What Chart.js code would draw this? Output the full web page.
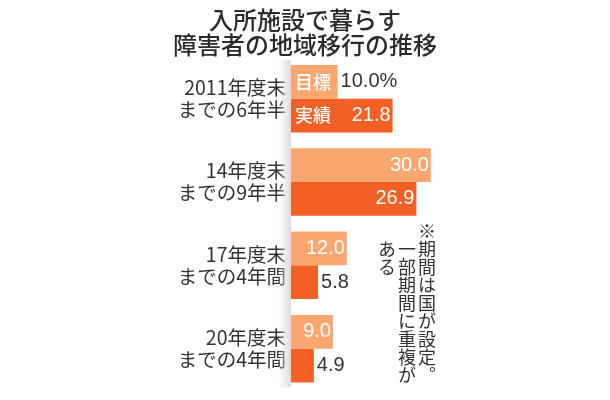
<!DOCTYPE html>
<html lang="ja"><head><meta charset="utf-8">
<script src="https://cdn.jsdelivr.net/npm/chart.js@4"></script>
<style>
html,body{margin:0;padding:0;background:#fff}
#wrap{position:relative;width:610px;height:400px}
#note{position:absolute;right:173px;top:222px;writing-mode:vertical-rl;font:400 18px/20px "Noto Sans CJK JP";color:#333;white-space:nowrap}
#note div.i{padding-top:18px}
</style></head><body>
<div id="wrap"><canvas id="c" width="610" height="400"></canvas>
<div id="note"><div>※期間は国が設定。</div><div class="i">一部期間に重複が</div><div class="i">ある</div></div></div>
<script>
const titleLines = ['入所施設で暮らす', '障害者の地域移行の推移'];
const categories = [['2011年度末', 'までの6年半'], ['14年度末', 'までの9年半'], ['17年度末', 'までの4年間'], ['20年度末', 'までの4年間']];
const targetValues = [10.0, 30.0, 12.0, 9.0];
const actualValues = [21.8, 26.9, 5.8, 4.9];
const seriesNames = ['目標', '実績'];
const INK = '#333333';
const CJK = '"Noto Sans CJK JP"';
const NUM = '"Liberation Sans"';

const shadow = {
  id: 'shadow',
  beforeDatasetsDraw(chart) {
    const ctx = chart.ctx, a = chart.chartArea;
    const g = ctx.createLinearGradient(a.left - 13, 0, a.left, 0);
    g.addColorStop(0, 'rgba(218,222,224,0)');
    g.addColorStop(1, 'rgba(218,222,224,1)');
    ctx.fillStyle = g;
    ctx.fillRect(a.left - 13, a.top + 3, 13, a.bottom - a.top - 6);
  }
};
const barText = {
  id: 'barText',
  afterDatasetsDraw(chart) {
    const ctx = chart.ctx;
    ctx.save();
    ctx.textBaseline = 'middle';
    chart.data.datasets.forEach((ds, d) => {
      chart.getDatasetMeta(d).data.forEach((bar, i) => {
        const w = bar.x - bar.base;
        const val = ds.data[i].toFixed(1);
        const first = i === 0;
        if (first) {
          ctx.font = '500 18px ' + CJK;
          ctx.fillStyle = '#fff';
          ctx.textAlign = 'left';
          ctx.fillText(ds.label, bar.base + 4, bar.y);
        }
        ctx.font = '400 20px ' + NUM;
        if ((first && d === 0) || w < 35) {
          ctx.fillStyle = INK;
          ctx.textAlign = 'left';
          ctx.fillText(first ? val + '%' : val, bar.x + 3, bar.y);
        } else {
          ctx.fillStyle = '#fff';
          ctx.textAlign = 'right';
          ctx.fillText(val, bar.x - 2, bar.y);
        }
      });
    });
    ctx.restore();
  }
};
new Chart(document.getElementById('c'), {
  type: 'bar',
  data: {
    labels: categories,
    datasets: [
      { label: seriesNames[0], data: targetValues, backgroundColor: '#F9A66F' },
      { label: seriesNames[1], data: actualValues, backgroundColor: '#F26024' }
    ]
  },
  options: {
    indexAxis: 'y',
    responsive: false,
    animation: false,
    layout: { padding: { bottom: 9.7 } },
    datasets: { bar: { barPercentage: 1, categoryPercentage: 0.81 } },
    plugins: {
      legend: { display: false },
      tooltip: { enabled: false },
      title: {
        display: true, text: titleLines, color: '#2b2b2b',
        font: { family: CJK, size: 24, weight: '500', lineHeight: 25 / 24 },
        padding: { top: 7, bottom: 0 }
      }
    },
    scales: {
      x: { display: false, min: 0, max: 68.45 },
      y: {
        grid: { display: false, drawTicks: false },
        border: { display: false },
        afterFit(s) { s.width = 291; s.paddingTop = 0; s.paddingBottom = 0; },
        ticks: {
          color: INK, padding: 5, crossAlign: 'near',
          font: { family: CJK, size: 19.5, weight: '400', lineHeight: 22 / 19.5 }
        }
      }
    }
  },
  plugins: [shadow, barText]
});
</script></body></html>
